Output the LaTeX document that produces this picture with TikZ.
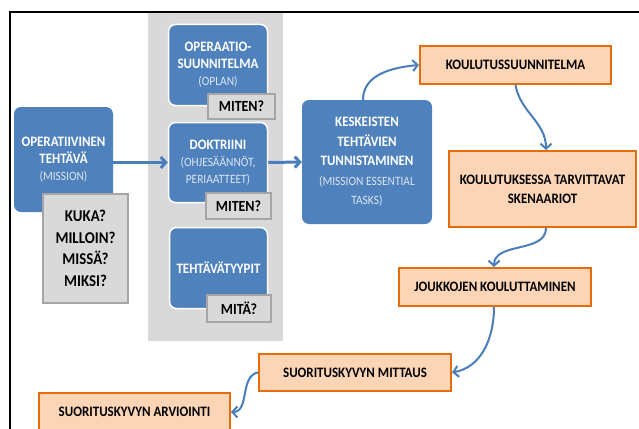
\documentclass[tikz,border=0pt]{standalone}
\usepackage{fontspec}
\setmainfont{Carlito}[FakeStretch=0.9]
\usetikzlibrary{arrows.meta,positioning}
\definecolor{missionblue}{HTML}{4F81BD}
\definecolor{lightblue}{HTML}{DCE6F2}
\definecolor{panelgray}{HTML}{D9D9D9}
\definecolor{qborder}{HTML}{A5A5A5}
\definecolor{stepfill}{HTML}{FBD5B5}
\definecolor{stepline}{HTML}{E46C0A}
\definecolor{flowblue}{HTML}{4A7EBB}
\newcommand{\lighttext}[1]{{\mdseries\color{lightblue}\fontsize{12.7}{15}\selectfont #1}}

\begin{document}
\begin{tikzpicture}[x=1pt,y=-1pt,
bluebox/.style={rectangle,rounded corners=7pt,fill=missionblue,text=white,align=center,inner sep=2pt,font=\bfseries\fontsize{14.4}{17}\selectfont},
innerblue/.style={bluebox,draw=white,line width=1.5pt},
question/.style={rectangle,fill=panelgray,draw=qborder,line width=1.6pt,align=center,font=\bfseries\fontsize{15.5}{21.5}\selectfont},
stepbox/.style={rectangle,fill=stepfill,draw=stepline,line width=2pt,align=center,font=\bfseries\fontsize{14.4}{19}\selectfont},
flow/.style={draw=flowblue,line width=2pt,-{Straight Barb[length=5pt,width=11pt]}},
]
	\useasboundingbox (0,0) rectangle (639,428);
	\clip (0,0) rectangle (639,428);
	\fill[panelgray] (148,12) rectangle (283,341);

	\node[bluebox,minimum width=99pt,minimum height=105pt] (mission) at (63.5,159.5)
		{OPERATIIVINEN\\TEHTÄVÄ\\\lighttext{(MISSION)}};
	\node[question,minimum width=85pt,minimum height=109pt,font=\bfseries\fontsize{16.5}{21.5}\selectfont] (who) at (85.5,248.5)
		{KUKA?\\MILLOIN?\\MISSÄ?\\MIKSI?};

	\node[innerblue,minimum width=99pt,minimum height=81pt] (oplan) at (218,65)
		{OPERAATIO-\\SUUNNITELMA\\\lighttext{(OPLAN)}};
	\node[question,minimum width=67pt,minimum height=25pt] (how1) at (241.5,106.5) {MITEN?};
	\node[innerblue,minimum width=99pt,minimum height=80pt] (doctrine) at (218,162.5)
		{DOKTRIINI\\\lighttext{(OHJESÄÄNNÖT,}\\\lighttext{PERIAATTEET)}};
	\node[question,minimum width=65pt,minimum height=26pt] (how2) at (238.5,206) {MITEN?};
	\node[innerblue,minimum width=98pt,minimum height=81pt] (tasktypes) at (218.5,268) {TEHTÄVÄTYYPIT};
	\node[question,minimum width=64pt,minimum height=27pt] (what) at (239,308.5) {MITÄ?};

	\node[bluebox,minimum width=130pt,minimum height=124pt,font=\bfseries\fontsize{14.4}{19.5}\selectfont] (essential) at (367,162)
		{KESKEISTEN\\TEHTÄVIEN\\TUNNISTAMINEN\\\lighttext{(MISSION ESSENTIAL}\\\lighttext{TASKS)}};

	\node[stepbox,minimum width=191pt,minimum height=38pt] (plan) at (515.5,65) {KOULUTUSSUUNNITELMA};
	\node[stepbox,minimum width=187pt,minimum height=76pt] (scenarios) at (542.5,189)
		{KOULUTUKSESSA TARVITTAVAT\\SKENAARIOT};
	\node[stepbox,minimum width=192pt,minimum height=38pt] (training) at (495,287) {JOUKKOJEN KOULUTTAMINEN};
	\node[stepbox,minimum width=192pt,minimum height=37pt] (measure) at (355,372.5) {SUORITUSKYVYN MITTAUS};
	\node[stepbox,minimum width=191pt,minimum height=38pt] (assess) at (134.5,412) {SUORITUSKYVYN ARVIOINTI};

	\draw[flow,line width=3pt] (mission.east |- doctrine.west) -- (doctrine.west);
	\draw[flow,line width=3pt] (doctrine.east) -- (essential.west);
	\draw[flow] ([xshift=-4pt]essential.north) to[out=90,in=185] (plan.west);
	\draw[flow] (plan.south) to[out=-80,in=90] ([xshift=3.5pt]scenarios.north);
	\draw[flow] ([xshift=3.5pt]scenarios.south) to[out=-90,in=90] ([xshift=-1pt]training.north);
	\draw[flow] ([xshift=-1pt]training.south) to[out=-90,in=10] (measure.east);
	\draw[flow] (measure.west) to[out=190,in=0] (assess.east);

	\draw[line width=2.3pt] (10,440) -- (10,12) -- (650,12);
\end{tikzpicture}
\end{document}
